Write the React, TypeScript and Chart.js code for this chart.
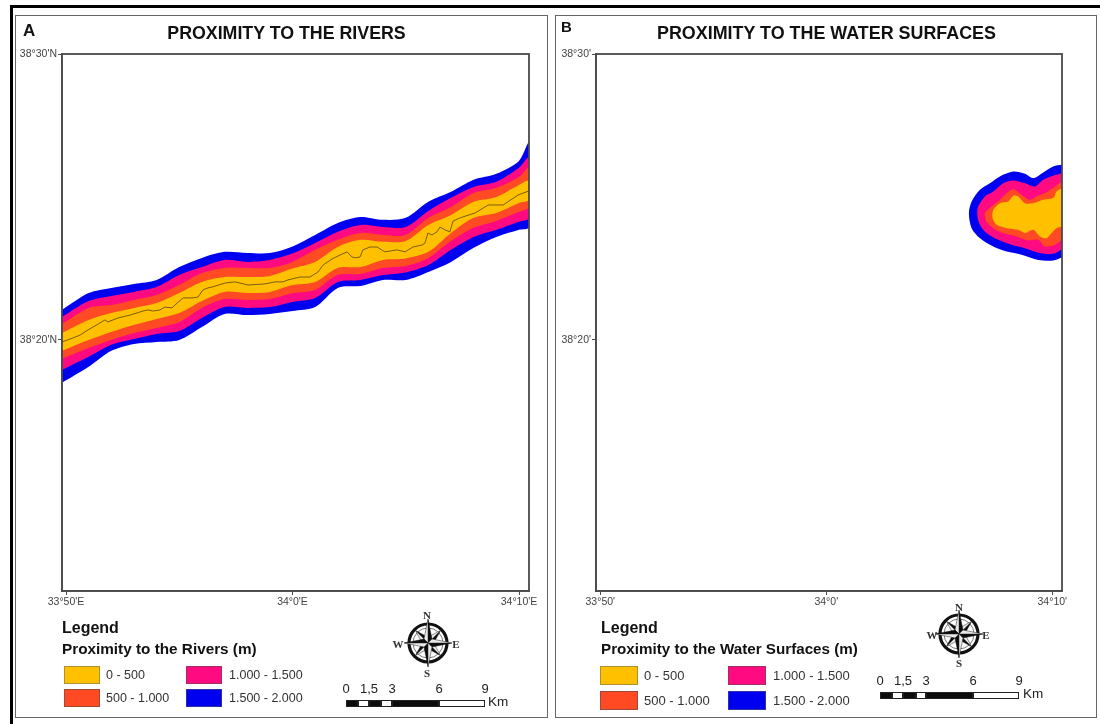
import React, { useEffect, useRef } from "react";
import { Chart, registerables } from "chart.js";

Chart.register(...registerables);

// Axis values are arc-minutes east of 33°50' and north of 38°20'.
const stationLon = [-0.18, 1, 2, 3, 4, 5, 6, 7, 8, 9, 10, 11, 12, 13, 14, 15, 16, 17, 18, 19, 20, 20.44];
const blueTop = [1.05, 1.64, 1.82, 1.96, 2.1, 2.55, 2.87, 3.08, 3.04, 3.04, 3.27, 3.67, 4.09, 4.3, 4.2, 4.27, 4.83, 5.18, 5.6, 5.81, 6.26, 6.89];
const pinkTop = [0.8, 1.36, 1.54, 1.68, 1.85, 2.27, 2.55, 2.8, 2.73, 2.8, 3.02, 3.39, 3.78, 4.02, 3.95, 3.95, 4.51, 4.97, 5.35, 5.53, 6.02, 6.37];
const redTop = [0.56, 1.12, 1.22, 1.4, 1.57, 1.92, 2.34, 2.52, 2.52, 2.52, 2.73, 3.15, 3.5, 3.74, 3.67, 3.67, 4.27, 4.65, 5.14, 5.32, 5.7, 6.02];
const yellowTop = [0.24, 0.7, 0.94, 1.12, 1.29, 1.64, 2.03, 2.2, 2.2, 2.24, 2.5, 2.73, 3.25, 3.5, 3.43, 3.46, 4.02, 4.37, 4.83, 5.0, 5.42, 5.56];
const yellowBottom = [-0.38, 0, 0.28, 0.52, 0.73, 0.94, 1.36, 1.68, 1.64, 1.68, 1.92, 2.03, 2.52, 2.55, 2.8, 2.85, 3.08, 3.74, 4.27, 4.44, 4.79, 4.9];
const redBottom = [-0.66, -0.28, 0, 0.24, 0.42, 0.63, 1.12, 1.43, 1.4, 1.43, 1.64, 1.75, 2.27, 2.31, 2.52, 2.59, 2.87, 3.46, 3.92, 4.16, 4.48, 4.65];
const pinkBottom = [-1.05, -0.59, -0.17, 0.03, 0.21, 0.31, 0.77, 1.15, 1.12, 1.15, 1.33, 1.47, 2.03, 2.1, 2.27, 2.36, 2.62, 3.15, 3.6, 3.85, 4.13, 4.27];
const blueBottom = [-1.5, -0.94, -0.38, -0.14, -0.07, 0, 0.45, 0.91, 0.87, 0.91, 1.01, 1.15, 1.82, 1.89, 2.1, 2.1, 2.38, 2.73, 3.22, 3.6, 3.85, 3.95];

const riverLon = [-0.18, 0.18, 0.62, 0.97, 1.28, 1.72, 1.85, 2.3, 2.83, 3.4, 3.62, 3.84, 4.15, 4.37, 4.68, 4.81, 5.17, 5.56, 5.83, 6.05, 6.27, 6.45, 7.02, 7.46, 8.04, 8.79, 9.23, 9.58, 9.8, 10.33, 10.77, 11.13, 11.35, 11.74, 12.1, 12.41, 12.63, 12.76, 12.98, 13.11, 13.42, 13.73, 14.08, 14.61, 14.97, 15.32, 15.72, 15.85, 15.98, 16.16, 16.38, 16.51, 16.73, 16.95, 17.09, 17.4, 18.06, 18.64, 19.3, 19.96, 20.44];
const riverLat = [-0.07, 0.03, 0.17, 0.35, 0.49, 0.7, 0.63, 0.77, 0.87, 1.01, 1.05, 1.01, 1.05, 1.15, 1.12, 1.22, 1.47, 1.47, 1.5, 1.75, 1.82, 1.85, 1.99, 2.03, 1.92, 1.96, 2.03, 2.03, 2.1, 2.2, 2.2, 2.38, 2.62, 2.83, 2.97, 3.08, 2.9, 2.87, 2.9, 3.15, 3.25, 3.25, 3.08, 3.15, 3.08, 3.25, 3.32, 3.39, 3.74, 3.67, 3.78, 3.95, 3.85, 3.78, 4.16, 4.27, 4.44, 4.72, 4.72, 5.07, 5.21];

const lakeBlueLon = [20.45, 20.04, 19.6, 19.16, 18.79, 18.27, 17.68, 17.24, 16.8, 16.43, 16.31, 16.43, 16.8, 17.39, 17.98, 18.64, 19.38, 20.04, 20.45];
const lakeBlueLat = [6.13, 6.07, 5.86, 5.66, 5.81, 5.89, 5.72, 5.48, 5.25, 4.84, 4.43, 3.91, 3.56, 3.27, 3.09, 2.98, 2.8, 2.78, 2.9];
const lakePinkLon = [20.45, 20.04, 19.6, 19.23, 18.79, 18.27, 17.83, 17.39, 17.02, 16.72, 16.68, 16.8, 17.09, 17.61, 18.2, 18.79, 19.45, 20.04, 20.45];
const lakePinkLat = [5.83, 5.74, 5.6, 5.37, 5.48, 5.58, 5.48, 5.19, 5.02, 4.67, 4.38, 4.03, 3.74, 3.5, 3.33, 3.21, 3.04, 3.01, 3.18];
const lakeRedLon = [20.45, 20.12, 19.67, 19.3, 19.01, 18.64, 18.27, 17.98, 17.68, 17.31, 17.02, 17.09, 17.39, 17.83, 18.42, 18.94, 19.38, 19.67, 20.12, 20.45];
const lakeRedLat = [5.54, 5.37, 5.13, 5.02, 4.9, 5.08, 5.27, 5.13, 4.9, 4.67, 4.43, 4.14, 3.91, 3.74, 3.62, 3.48, 3.5, 3.27, 3.33, 3.53];
const lakeYellowLon = [20.45, 20.19, 20.04, 19.6, 19.16, 18.79, 18.49, 18.27, 18.05, 17.68, 17.39, 17.36, 17.54, 17.98, 18.49, 18.79, 19.16, 19.45, 19.75, 19.97, 20.19, 20.45];
const lakeYellowLat = [5.31, 5.19, 4.96, 4.9, 4.78, 4.78, 5.02, 5.04, 4.84, 4.78, 4.55, 4.26, 4.03, 3.91, 3.85, 3.74, 3.85, 3.62, 3.56, 3.74, 3.91, 3.97];

const lonTicks = [0, 10, 20];
const latTicks = [0, 10];
const lonLabelsA = ["33°50'E", "34°0'E", "34°10'E"];
const latLabelsA = ["38°20'N", "38°30'N"];
const lonLabelsB = ["33°50'", "34°0'", "34°10'"];
const latLabelsB = ["38°20'", "38°30'"];

const classLabels = ["0 - 500", "500 - 1.000", "1.000 - 1.500", "1.500 - 2.000"];
const YELLOW = "#ffc000", RED = "#ff4a24", PINK = "#ff0a80", BLUE = "#0000f0";
const classColors = [YELLOW, RED, PINK, BLUE];
const classBorders = ["#b08f30", "#a04a38", "#a03060", "#3030a0"];
const scaleLabels = ["0", "1,5", "3", "6", "9"];

const SANS = '"Liberation Sans", Arial, sans-serif';
const zip = (xs: number[], ys: number[]) => xs.map((x, i) => ({ x, y: ys[i] }));
const ribbon = (top: number[], bottom: number[]) => [
  ...zip(stationLon, top),
  ...zip(stationLon, bottom).reverse(),
];

const area = (label: string, data: { x: number; y: number }[], color: string) => ({
  label,
  data,
  showLine: true,
  pointRadius: 0,
  borderWidth: 0,
  borderColor: color,
  backgroundColor: color,
  fill: "shape",
  tension: 0.3,
});

const riverDatasets = [
  { label: "River", data: zip(riverLon, riverLat), showLine: true, pointRadius: 0, borderWidth: 0.9, borderColor: "#6b5214", fill: false, tension: 0 },
  area(classLabels[0], ribbon(yellowTop, yellowBottom), YELLOW),
  area(classLabels[1], ribbon(redTop, redBottom), RED),
  area(classLabels[2], ribbon(pinkTop, pinkBottom), PINK),
  area(classLabels[3], ribbon(blueTop, blueBottom), BLUE),
];

const lakeDatasets = [
  area(classLabels[0], zip(lakeYellowLon, lakeYellowLat), YELLOW),
  area(classLabels[1], zip(lakeRedLon, lakeRedLat), RED),
  area(classLabels[2], zip(lakePinkLon, lakePinkLat), PINK),
  area(classLabels[3], zip(lakeBlueLon, lakeBlueLat), BLUE),
];

const frame = {
  id: "plotFrame",
  afterDraw(chart: any) {
    const { ctx, chartArea: a } = chart;
    ctx.save();
    ctx.strokeStyle = "#4a4a4a";
    ctx.lineWidth = 1.8;
    ctx.strokeRect(a.left, a.top, a.right - a.left, a.bottom - a.top);
    ctx.restore();
  },
};

function MapChart(props: {
  left: number; plotLeft: number; plotRight: number; lonPerUnit: number; lonZero: number;
  datasets: any[]; lonLabels: string[]; latLabels: string[];
}) {
  const ref = useRef<HTMLCanvasElement>(null);
  const W = 550, H = 724;
  useEffect(() => {
    const axisWidth = props.plotLeft - props.left;
    const chart = new Chart(ref.current as HTMLCanvasElement, {
      type: "scatter",
      data: { datasets: props.datasets },
      plugins: [frame],
      options: {
        responsive: false,
        animation: false,
        devicePixelRatio: 1,
        layout: { padding: { top: 54, right: W - (props.plotRight - props.left), left: 0, bottom: 0 } },
        plugins: { legend: { display: false }, tooltip: { enabled: false } },
        scales: {
          x: {
            type: "linear",
            min: (props.plotLeft - props.lonZero) / props.lonPerUnit,
            max: (props.plotRight - props.lonZero) / props.lonPerUnit,
            afterFit: (s: any) => { s.height = H - 591; },
            afterBuildTicks: (s: any) => { s.ticks = lonTicks.map((value) => ({ value })); },
            grid: { drawOnChartArea: false, color: "#4a4a4a", tickLength: 4 },
            border: { color: "#4a4a4a", width: 1.5 },
            ticks: {
              autoSkip: false, maxRotation: 0, padding: 1, color: "#444",
              font: { family: SANS, size: 10.5 },
              callback: (v: any) => props.lonLabels[lonTicks.indexOf(v)],
            },
          },
          y: {
            type: "linear",
            min: -8.78,
            max: 10,
            afterFit: (s: any) => { s.width = axisWidth; },
            afterBuildTicks: (s: any) => { s.ticks = latTicks.map((value) => ({ value })); },
            grid: { drawOnChartArea: false, color: "#4a4a4a", tickLength: 4 },
            border: { color: "#4a4a4a", width: 1.5 },
            ticks: {
              autoSkip: false, padding: 1, color: "#444",
              font: { family: SANS, size: 10.5 },
              callback: (v: any) => props.latLabels[latTicks.indexOf(v)],
            },
          },
        },
      } as any,
    } as any);
    return () => chart.destroy();
  }, []);
  return (
    <canvas ref={ref} width={W} height={H}
      style={{ position: "absolute", left: props.left, top: 0, width: W, height: H, display: "block" }} />
  );
}

function Text(p: { x: number; cy: number; size: number; bold?: boolean; center?: boolean; color?: string; serif?: boolean; children: React.ReactNode }) {
  return (
    <div style={{
      position: "absolute", left: p.x, top: p.cy, lineHeight: 0, whiteSpace: "nowrap",
      transform: p.center ? "translateX(-50%)" : undefined,
      fontFamily: p.serif ? '"Liberation Serif", serif' : SANS,
      fontSize: p.size, fontWeight: p.bold ? 700 : 400, color: p.color || "#111",
    }}>{p.children}</div>
  );
}

function Box(p: { x: number; y: number; w: number; h: number; fill?: string; border?: string; bw?: number }) {
  return <div style={{
    position: "absolute", left: p.x, top: p.y, width: p.w, height: p.h, boxSizing: "border-box",
    background: p.fill, border: p.border ? `${p.bw || 1}px solid ${p.border}` : undefined,
  }} />;
}

function Compass({ cx, cy, r }: { cx: number; cy: number; r: number }) {
  const pt = (deg: number, d: number) => {
    const a = (deg * Math.PI) / 180;
    return `${(Math.sin(a) * d).toFixed(2)},${(-Math.cos(a) * d).toFixed(2)}`;
  };
  const star: React.ReactNode[] = [];
  [45, 135, 225, 315, 0, 90, 180, 270].forEach((deg) => {
    const len = deg % 90 === 0 ? r * 1.25 : r * 0.95;
    const w = r * 0.3;
    star.push(<polygon key={`a${deg}`} points={`0,0 ${pt(deg, len)} ${pt(deg + 45, w)}`} fill="#0c0c0c" stroke="#0c0c0c" strokeWidth={0.4} />);
    star.push(<polygon key={`b${deg}`} points={`0,0 ${pt(deg, len)} ${pt(deg - 45, w)}`} fill="#eaeaea" stroke="#222" strokeWidth={0.5} />);
  });
  const s = r * 3;
  return (
    <svg width={s * 2} height={s * 2} viewBox={`${-s} ${-s} ${s * 2} ${s * 2}`}
      style={{ position: "absolute", left: cx - s, top: cy - s, overflow: "visible" }}>
      <circle cx={0} cy={0} r={r} fill="#fff" stroke="#111" strokeWidth={3.2} />
      <circle cx={0} cy={0} r={r - 4} fill="none" stroke="#555" strokeWidth={0.8} />
      {star}
    </svg>
  );
}

function ScaleBar(p: { stops: number[]; y: number; h: number; labelCy: number; kmX: number; kmCy: number }) {
  const { stops } = p;
  const labelStops = [stops[0], stops[2], stops[4], stops[5], stops[6]];
  return (
    <>
      {stops.slice(0, -1).map((s, i) => (
        <Box key={i} x={s} y={p.y} w={stops[i + 1] - s} h={p.h}
          fill={i % 2 === 0 ? "#0c0c0c" : "#fff"} border="#222" bw={1} />
      ))}
      {scaleLabels.map((t, i) => (
        <Text key={t} x={labelStops[i]} cy={p.labelCy} size={13} center color="#222">{t}</Text>
      ))}
      <Text x={p.kmX} cy={p.kmCy} size={13.5} color="#222">Km</Text>
    </>
  );
}

function Legend(p: {
  x: number; title: string; titleSize: number; rows: number[]; h: number;
  col1: number; col2: number; swatchW: number; text1: number; text2: number; fontSize: number;
}) {
  const cols = [p.col1, p.col1, p.col2, p.col2];
  const txt = [p.text1, p.text1, p.text2, p.text2];
  const rows = [p.rows[0], p.rows[1], p.rows[0], p.rows[1]];
  return (
    <>
      <Text x={p.x} cy={628} size={16} bold>Legend</Text>
      <Text x={p.x} cy={649} size={p.titleSize} bold>{p.title}</Text>
      {classLabels.map((t, i) => (
        <React.Fragment key={t}>
          <Box x={cols[i]} y={rows[i]} w={p.swatchW} h={p.h} fill={classColors[i]} border={classBorders[i]} bw={1.5} />
          <Text x={txt[i]} cy={rows[i] + p.h / 2} size={p.fontSize} color="#333">{t}</Text>
        </React.Fragment>
      ))}
    </>
  );
}

export default function App() {
  return (
    <div style={{ position: "absolute", left: 0, top: 0, width: 1100, height: 724, background: "#fff", overflow: "hidden", filter: "blur(0.4px)" }}>
      <Box x={10} y={5} w={1090} h={2.5} fill="#000" />
      <Box x={10} y={5} w={2.5} h={719} fill="#000" />
      <Box x={15} y={15} w={533} h={703} border="#666" bw={1.8} />
      <Box x={555} y={15} w={542} h={703} border="#666" bw={1.8} />

      <MapChart left={0} plotLeft={62} plotRight={529} lonPerUnit={22.65} lonZero={66}
        datasets={riverDatasets} lonLabels={lonLabelsA} latLabels={latLabelsA} />
      <MapChart left={550} plotLeft={596} plotRight={1062} lonPerUnit={22.6} lonZero={600.3}
        datasets={lakeDatasets} lonLabels={lonLabelsB} latLabels={latLabelsB} />

      <Text x={23} cy={31} size={17} bold>A</Text>
      <Text x={561} cy={27} size={15} bold>B</Text>
      <Text x={286.5} cy={33} size={17.8} bold center>PROXIMITY TO THE RIVERS</Text>
      <Text x={826.5} cy={33} size={17.9} bold center>PROXIMITY TO THE WATER SURFACES</Text>

      <Legend x={62} title="Proximity to the Rivers (m)" titleSize={15.3} rows={[666, 689]} h={18}
        col1={64} col2={186} swatchW={36} text1={106} text2={229} fontSize={12.5} />
      <Legend x={601} title="Proximity to the Water Surfaces (m)" titleSize={15.2} rows={[666, 691]} h={19}
        col1={600} col2={728} swatchW={38} text1={644} text2={773} fontSize={13} />

      <Compass cx={428} cy={643} r={19} />
      <Text x={427} cy={615} size={11} bold serif center color="#333">N</Text>
      <Text x={427} cy={673} size={11} bold serif center color="#333">S</Text>
      <Text x={398} cy={644} size={11} bold serif center color="#333">W</Text>
      <Text x={456} cy={644} size={11} bold serif center color="#333">E</Text>

      <Compass cx={959} cy={634} r={19} />
      <Text x={959} cy={607} size={11} bold serif center color="#333">N</Text>
      <Text x={959} cy={663} size={11} bold serif center color="#333">S</Text>
      <Text x={932} cy={635} size={11} bold serif center color="#333">W</Text>
      <Text x={986} cy={635} size={11} bold serif center color="#333">E</Text>

      <ScaleBar stops={[346, 358, 369, 381, 392, 439, 485]} y={700} h={7} labelCy={689} kmX={488} kmCy={702} />
      <ScaleBar stops={[880, 892, 903, 916, 926, 973, 1019]} y={692} h={7} labelCy={681} kmX={1023} kmCy={694} />
    </div>
  );
}
